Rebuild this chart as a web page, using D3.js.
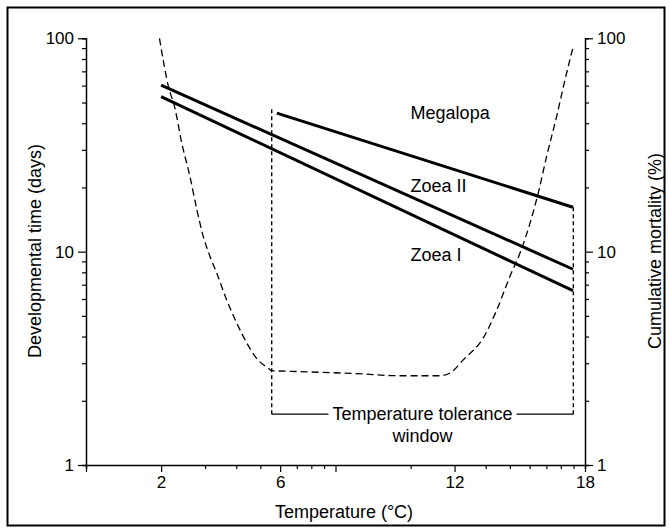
<!DOCTYPE html>
<html>
<head>
<meta charset="utf-8">
<script src="https://cdn.jsdelivr.net/npm/d3@7"></script>
<style>
body { margin: 0; background: #fff; }
text { font-family: Arial, "Liberation Sans", Helvetica, sans-serif; fill: #000; }
</style>
</head>
<body>
<div id="chart"></div>
<script>
// x runs on a log grid (1..100); the printed labels are temperatures
var xTicks = [1, 2, 3, 4, 5, 6, 7, 8, 9, 10, 20, 30, 40, 50, 60, 70, 80, 90, 100];
var xMajor = [1, 2, 6, 10, 30, 100];
var xLabelAt = [2, 6, 30, 100];
var xLabelText = ["2", "6", "12", "18"];

var yTicks = [1, 2, 3, 4, 5, 6, 7, 8, 9, 10, 20, 30, 40, 50, 60, 70, 80, 90, 100];
var yLabelAt = [1, 10, 100];

// developmental time lines (days)
var stages = ["Zoea I", "Zoea II", "Megalopa"];
var stageX0 = [2, 2, 5.82];
var stageX1 = [89.5, 89.5, 89.5];
var stageY0 = [53.3, 60.3, 44.6];
var stageY1 = [6.56, 8.27, 16.15];
var stageLabelX = [20, 20, 20];
var stageLabelY = [9.65, 20.3, 44.8];

// cumulative mortality (%)
var mortX = [1.97, 2.14, 2.27, 2.42, 2.61, 2.78, 2.95, 3.14, 3.34, 3.66, 4.02, 4.41, 4.83, 5.38, 5.55,
             7.21, 12.2, 18.1, 26.2, 28.8, 32.5, 39.1, 44.3, 50.0, 54.9, 60.2, 65.0, 70.2, 77.0, 83.2, 89.8];
var mortY = [100, 59.5, 47.2, 32.3, 22.5, 15.8, 11.8, 9.5, 7.95, 5.95, 4.63, 3.73, 3.16, 2.84, 2.77,
             2.74, 2.68, 2.62, 2.62, 2.7, 3.11, 3.94, 5.33, 7.65, 9.85, 13.6, 18.9, 28.0, 43.1, 64.1, 92];

// tolerance window
var winLeft = 5.55, winRight = 89.8, winTop = 46.5, winBase = 1.73;

var W = 670, H = 532;
var svg = d3.select("#chart").append("svg")
    .attr("width", W)
    .attr("height", H);

svg.append("rect")
    .attr("x", 7.5).attr("y", 7.5)
    .attr("width", 657).attr("height", 518)
    .attr("fill", "none").attr("stroke", "#000").attr("stroke-width", 2);

var x = d3.scaleLog().domain([1, 100]).range([86, 585]);
var y = d3.scaleLog().domain([1, 100]).range([465, 38.3]);

function styleAxis(g, majors) {
    g.select(".domain").attr("stroke", "#000").attr("stroke-width", 1.5);
    g.selectAll(".tick line").attr("stroke", "#000").attr("stroke-width", 1.2);
    g.selectAll("text").style("font-size", "17px").attr("fill", "#000");
}

// bottom axis
var gx = svg.append("g")
    .attr("transform", "translate(0,465)")
    .call(d3.axisBottom(x).tickValues(xTicks).tickSizeOuter(0).tickSize(4).tickPadding(7)
        .tickFormat(function (d) {
            var i = xLabelAt.indexOf(d);
            return i < 0 ? "" : xLabelText[i];
        }));
styleAxis(gx);
gx.selectAll(".tick line").attr("y2", function (d) { return xMajor.indexOf(d) >= 0 ? 7 : 4; });

// left axis
var gl = svg.append("g")
    .attr("transform", "translate(86,0)")
    .call(d3.axisLeft(y).tickValues(yTicks).tickSizeOuter(0).tickSize(4).tickPadding(8)
        .tickFormat(function (d) { return yLabelAt.indexOf(d) >= 0 ? d : ""; }));
styleAxis(gl);
gl.selectAll(".tick line").attr("x2", function (d) { return yLabelAt.indexOf(d) >= 0 ? -8 : -4; });

// right axis
var gr = svg.append("g")
    .attr("transform", "translate(585,0)")
    .call(d3.axisRight(y).tickValues(yTicks).tickSizeOuter(0).tickSize(4).tickPadding(8)
        .tickFormat(function (d) { return yLabelAt.indexOf(d) >= 0 ? d : ""; }));
styleAxis(gr);
gr.selectAll(".tick line").attr("x2", function (d) { return yLabelAt.indexOf(d) >= 0 ? 8 : 4; });

// axis titles
svg.append("text")
    .attr("x", 344).attr("y", 518)
    .attr("text-anchor", "middle")
    .style("font-size", "18px")
    .text("Temperature (°C)");

svg.append("text")
    .attr("transform", "translate(35,251) rotate(-90)")
    .attr("text-anchor", "middle").attr("dy", "0.35em")
    .style("font-size", "18px")
    .text("Developmental time (days)");

svg.append("text")
    .attr("transform", "translate(655,251) rotate(-90)")
    .attr("text-anchor", "middle").attr("dy", "0.35em")
    .style("font-size", "18px")
    .text("Cumulative mortality (%)");

// mortality curve
var mort = mortX.map(function (d, i) { return [d, mortY[i]]; });
svg.append("path")
    .datum(mort)
    .attr("fill", "none")
    .attr("stroke", "#000")
    .attr("stroke-width", 1.3)
    .attr("stroke-dasharray", "7,4")
    .attr("d", d3.line()
        .x(function (d) { return x(d[0]); })
        .y(function (d) { return y(d[1]); })
        .curve(d3.curveMonotoneX));

// tolerance window bracket
svg.append("line")
    .attr("x1", x(winLeft)).attr("x2", x(winLeft))
    .attr("y1", y(winTop)).attr("y2", y(winBase))
    .attr("stroke", "#000").attr("stroke-width", 1.4).attr("stroke-dasharray", "4,3");
svg.append("line")
    .attr("x1", x(winRight)).attr("x2", x(winRight))
    .attr("y1", y(stageY1[2])).attr("y2", y(winBase))
    .attr("stroke", "#000").attr("stroke-width", 1.4).attr("stroke-dasharray", "4,3");

var cx = (x(winLeft) + x(winRight)) / 2;
var winText = svg.append("text")
    .attr("x", cx).attr("y", y(winBase) - 1)
    .attr("dy", "0.35em")
    .attr("text-anchor", "middle")
    .style("font-size", "18px")
    .text("Temperature tolerance");
svg.append("text")
    .attr("x", cx).attr("y", y(winBase) + 21)
    .attr("dy", "0.35em")
    .attr("text-anchor", "middle")
    .style("font-size", "18px")
    .text("window");

var tw = winText.node().getComputedTextLength();
svg.append("line")
    .attr("x1", x(winLeft)).attr("x2", cx - tw / 2 - 4)
    .attr("y1", y(winBase)).attr("y2", y(winBase))
    .attr("stroke", "#000").attr("stroke-width", 1.2);
svg.append("line")
    .attr("x1", cx + tw / 2 + 4).attr("x2", x(winRight))
    .attr("y1", y(winBase)).attr("y2", y(winBase))
    .attr("stroke", "#000").attr("stroke-width", 1.2);

// stage lines
svg.selectAll(".stage")
    .data(stages)
    .enter()
    .append("line")
    .attr("class", "stage")
    .attr("x1", function (d, i) { return x(stageX0[i]); })
    .attr("y1", function (d, i) { return y(stageY0[i]); })
    .attr("x2", function (d, i) { return x(stageX1[i]); })
    .attr("y2", function (d, i) { return y(stageY1[i]); })
    .attr("stroke", "#000")
    .attr("stroke-width", 3);

svg.selectAll(".stage-label")
    .data(stages)
    .enter()
    .append("text")
    .attr("class", "stage-label")
    .attr("x", function (d, i) { return x(stageLabelX[i]); })
    .attr("y", function (d, i) { return y(stageLabelY[i]); })
    .attr("dy", "0.35em")
    .style("font-size", "18px")
    .text(function (d) { return d; });
</script>
</body>
</html>
